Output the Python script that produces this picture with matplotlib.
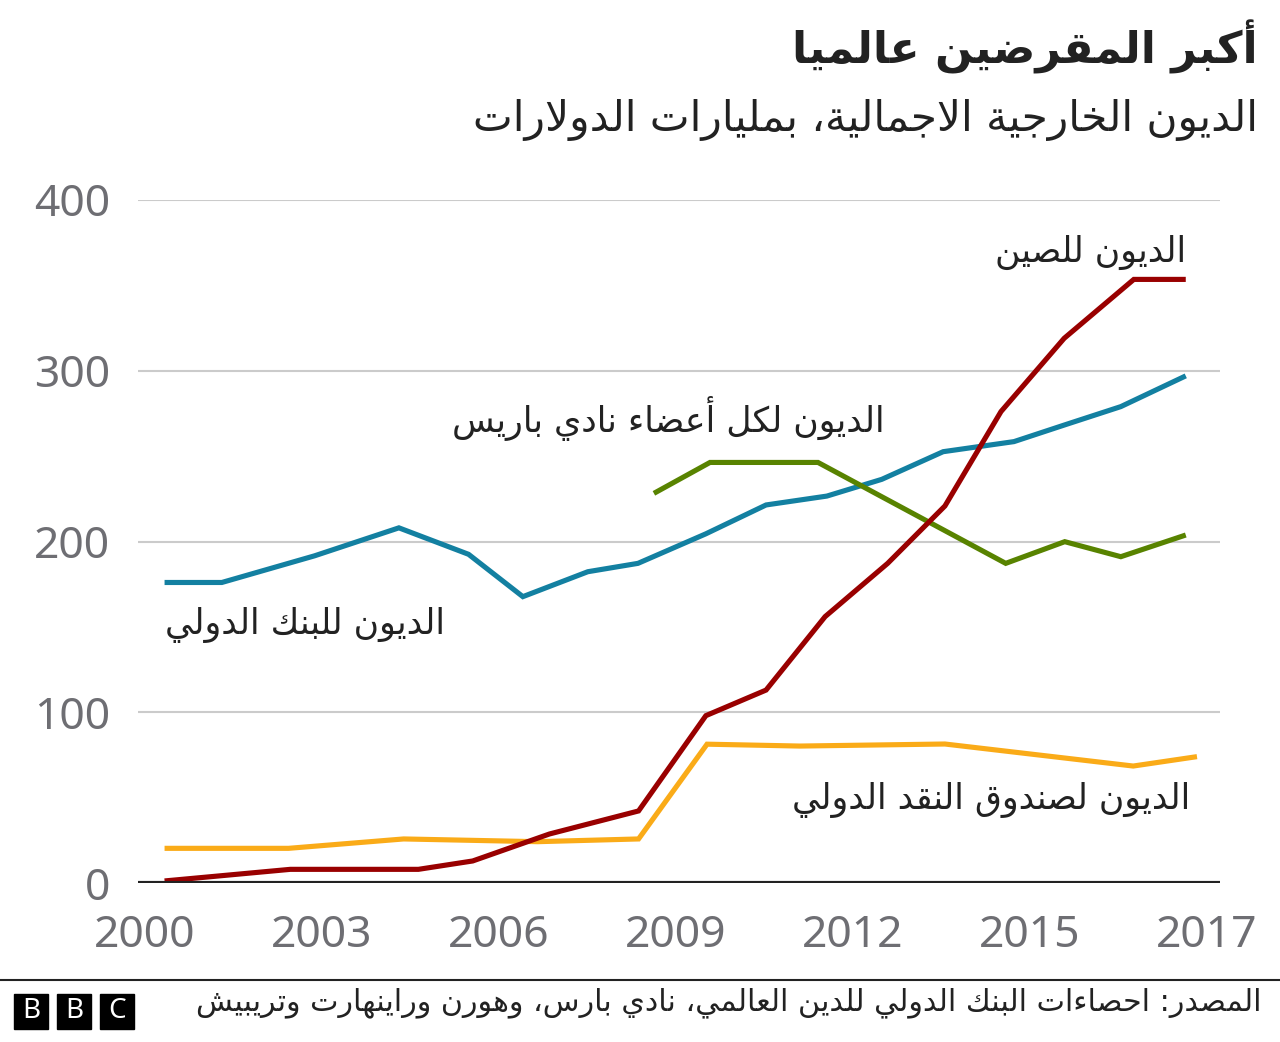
import matplotlib
matplotlib.use("Agg")
import matplotlib.pyplot as plt
from matplotlib.patches import Rectangle
from matplotlib.lines import Line2D

# ---------------- data ----------------
world_bank_years = [2000.34, 2001.31, 2002.88, 2004.31, 2005.49, 2006.41, 2007.51, 2008.36,
                    2009.51, 2010.53, 2011.56, 2012.49, 2013.53, 2014.73, 2015.59, 2016.54, 2017.64]
world_bank_values = [176, 176, 191.6, 208, 192.5, 167.7, 182.3, 187.2,
                     204.5, 221.4, 226.6, 236.4, 252.6, 258.5, 268.3, 279, 297]

china_years = [2000.34, 2002.47, 2004.64, 2005.56, 2006.86, 2008.37, 2009.51, 2010.53,
               2011.53, 2012.59, 2013.56, 2014.51, 2015.58, 2016.76, 2017.64]
china_values = [1.2, 8, 8, 12.9, 28.7, 42.2, 98, 113,
                156, 187.2, 220.8, 276.1, 319, 353.5, 353.5]

imf_years = [2000.34, 2002.44, 2004.39, 2006.66, 2008.37, 2009.53, 2011.10, 2013.56, 2016.75, 2017.83]
imf_values = [20.3, 20.3, 25.8, 24.2, 25.8, 81.3, 80.2, 81.4, 68.5, 74]

paris_years = [2008.63, 2009.58, 2011.41, 2014.59, 2015.59, 2016.54, 2017.64]
paris_values = [228.2, 246.3, 246.3, 187.2, 199.9, 191.1, 203.8]

x_tick_positions = [2000, 2003, 2006, 2009, 2012, 2015, 2018]
x_tick_labels = ["2000", "2003", "2006", "2009", "2012", "2015", "2017"]
y_ticks = [0, 100, 200, 300, 400]

title = "أكبر المقرضين عالميا"
subtitle = "الديون الخارجية الاجمالية، بمليارات الدولارات"
label_china = "الديون للصين"
label_paris = "الديون لكل أعضاء نادي باريس"
label_wb = "الديون للبنك الدولي"
label_imf = "الديون لصندوق النقد الدولي"
source = "المصدر: احصاءات البنك الدولي للدين العالمي، نادي بارس، وهورن وراينهارت وتريبيش"

# ---------------- Arabic shaping (matplotlib has no complex text layout) ----------------
DUAL = {0x0626: 0xFE89, 0x0628: 0xFE8F, 0x062A: 0xFE95, 0x062B: 0xFE99, 0x062C: 0xFE9D,
        0x062D: 0xFEA1, 0x062E: 0xFEA5, 0x0633: 0xFEB1, 0x0634: 0xFEB5, 0x0635: 0xFEB9,
        0x0636: 0xFEBD, 0x0637: 0xFEC1, 0x0638: 0xFEC5, 0x0639: 0xFEC9, 0x063A: 0xFECD,
        0x0641: 0xFED1, 0x0642: 0xFED5, 0x0643: 0xFED9, 0x0644: 0xFEDD, 0x0645: 0xFEE1,
        0x0646: 0xFEE5, 0x0647: 0xFEE9, 0x064A: 0xFEF1}
RIGHT = {0x0622: 0xFE81, 0x0623: 0xFE83, 0x0624: 0xFE85, 0x0625: 0xFE87, 0x0627: 0xFE8D,
         0x0629: 0xFE93, 0x062F: 0xFEA9, 0x0630: 0xFEAB, 0x0631: 0xFEAD, 0x0632: 0xFEAF,
         0x0648: 0xFEED, 0x0649: 0xFEEF}
LAMALEF = {0x0622: 0xFEF5, 0x0623: 0xFEF7, 0x0625: 0xFEF9, 0x0627: 0xFEFB}


def ar(text):
    toks = []
    i = 0
    while i < len(text):
        c = ord(text[i])
        if c == 0x0644 and i + 1 < len(text) and ord(text[i + 1]) in LAMALEF:
            toks.append(("R", LAMALEF[ord(text[i + 1])]))
            i += 2
            continue
        if c in DUAL:
            toks.append(("D", DUAL[c]))
        elif c in RIGHT:
            toks.append(("R", RIGHT[c]))
        else:
            toks.append(("N", c))
        i += 1
    out = []
    for k, (t, b) in enumerate(toks):
        if t == "N":
            out.append(chr(b))
            continue
        prev = toks[k - 1][0] if k > 0 else "N"
        nxt = toks[k + 1][0] if k + 1 < len(toks) else "N"
        jp = prev == "D"
        jn = t == "D" and nxt in ("D", "R")
        if jp and jn:
            f = 3
        elif jp:
            f = 1
        elif jn:
            f = 2
        else:
            f = 0
        out.append(chr(b + f))
    return "".join(reversed(out))


AR_FONT = ["DejaVu Sans"]
NUM_FONT = ["Noto Sans", "DejaVu Sans"]
TXT = "#222222"
GREY = "#6e6e73"

W, H = 1280, 1042
fig = plt.figure(figsize=(W / 100, H / 100), dpi=100)
fig.patch.set_facecolor("white")

ax = fig.add_axes([138 / W, (H - 883) / H, (1220 - 138) / W, (883 - 200) / H])
ax.set_xlim(1999.89, 2018.22)
ax.set_ylim(0, 400)
for s in ax.spines.values():
    s.set_visible(False)

ax.set_yticks(y_ticks)
ax.set_yticklabels([str(v) for v in y_ticks], fontfamily=NUM_FONT, fontsize=32, color=GREY)
ax.set_xticks(x_tick_positions)
ax.set_xticklabels(x_tick_labels, fontfamily=NUM_FONT, fontsize=32, color=GREY)
ax.tick_params(axis="y", length=0, pad=20)
ax.tick_params(axis="x", length=0, pad=22)
ax.yaxis.grid(True, color="#cbcbcb", lw=1.5)
ax.xaxis.grid(False)
ax.set_axisbelow(True)

lw = 3.7
style = dict(lw=lw, solid_joinstyle="miter", solid_capstyle="butt")
ax.plot(world_bank_years, world_bank_values, color="#1380A1", zorder=3, **style)
ax.plot(paris_years, paris_values, color="#588300", zorder=3, **style)
ax.plot(imf_years, imf_values, color="#FAAB18", zorder=3, **style)
ax.plot(china_years, china_values, color="#990000", zorder=4, **style)
ax.axhline(0, color="#222222", lw=3, zorder=5)

lab_kw = dict(fontfamily=AR_FONT, fontsize=25, color=TXT, va="center")
ax.text(2017.64, 369.5, ar(label_china), ha="right", **lab_kw)
ax.text(2012.53, 272.3, ar(label_paris), ha="right", **lab_kw)
ax.text(2000.34, 151.1, ar(label_wb), ha="left", **lab_kw)
ax.text(2017.71, 48.6, ar(label_imf), ha="right", **lab_kw)

# titles
fig.text(1258 / W, 1 - 47 / H, ar(title), ha="right", va="center", fontfamily=AR_FONT,
         fontsize=31.7, fontweight="bold", color=TXT)
fig.text(1258 / W, 1 - 120 / H, ar(subtitle), ha="right", va="center", fontfamily=AR_FONT,
         fontsize=30.4, color=TXT)

# footer
fig.add_artist(Line2D([0, 1], [1 - 980 / H, 1 - 980 / H], color="#222222", lw=1.5,
                      transform=fig.transFigure))
for i, letter in enumerate(["B", "B", "C"]):
    x0 = 14 + i * 43
    fig.add_artist(Rectangle((x0 / W, 1 - 1029 / H), 34 / W, 35 / H, color="black",
                             transform=fig.transFigure))
    fig.text((x0 + 17) / W, 1 - 1011.5 / H, letter, ha="center", va="center", color="white",
             fontsize=20, fontweight="bold", fontfamily=NUM_FONT)
fig.text(1262 / W, 1 - 1003 / H, ar(source), ha="right", va="center", fontfamily=AR_FONT,
         fontsize=21.7, color=TXT)

fig.savefig("out.png", dpi=100, facecolor="white")
